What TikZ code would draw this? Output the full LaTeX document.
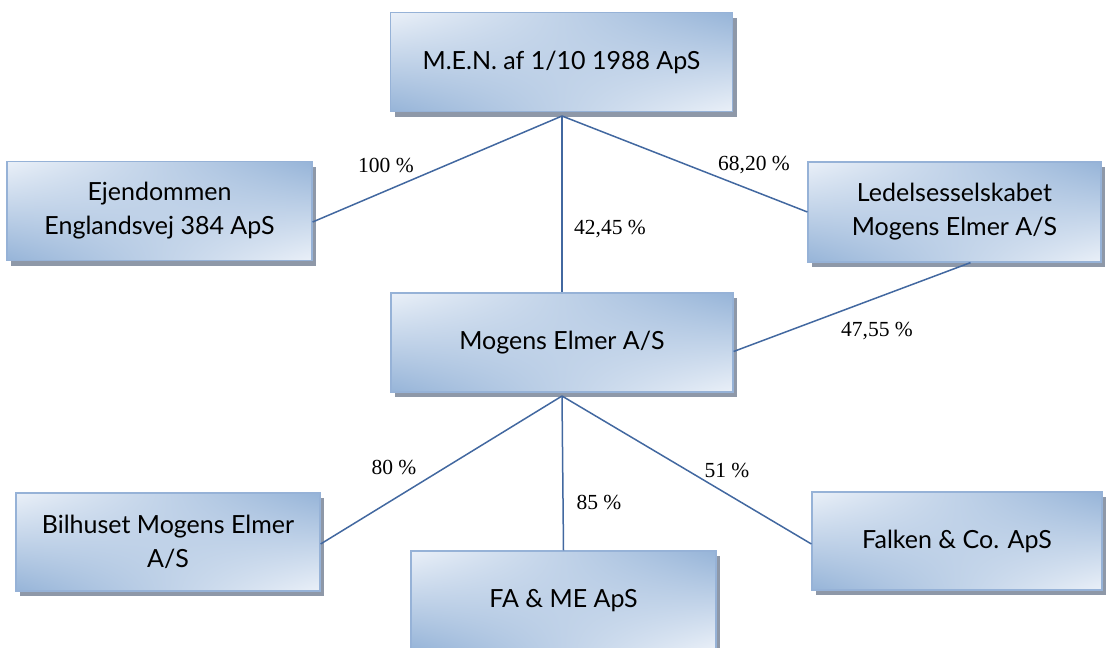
\documentclass[tikz,border=0pt]{standalone}
\usepackage{fontspec}
\setmainfont{Liberation Serif}
\newfontfamily\firmfont{Lato}
\usetikzlibrary{shadings,shadows}

\definecolor{boxlight}{RGB}{234,240,248}
\definecolor{boxdark}{RGB}{150,180,216}
\definecolor{boxedge}{RGB}{150,178,215}
\definecolor{boxshadow}{RGB}{142,152,168}
\definecolor{linkblue}{RGB}{66,104,160}

\tikzset{
  firm/.style={draw=boxedge, line width=1.2pt,
    upper left=boxlight, lower right=boxlight, upper right=boxdark, lower left=boxdark,
    drop shadow={shadow xshift=4pt, shadow yshift=-5pt, fill=boxshadow, opacity=1},
    align=center, font=\firmfont\fontsize{25}{34}\selectfont, inner sep=0pt},
  pct/.style={font=\fontsize{21.5}{25}\selectfont, inner sep=0pt},
  link/.style={draw=linkblue, line width=1.5pt}
}

\begin{document}
\begin{tikzpicture}[x=1pt, y=-1pt]

    \useasboundingbox (0, 0) rectangle (1109, 648);

    % 1. Selskaberne
    \node[firm, minimum width=342pt, minimum height=99pt] (men) at (561.5, 62) {M.E.N. af 1/10 1988 ApS};
    \node[firm, minimum width=305pt, minimum height=99pt] (ejen) at (159.5, 211) {Ejendommen\\Englandsvej 384 ApS};
    \node[firm, minimum width=293pt, minimum height=100pt] (led) at (954.5, 212) {Ledelsesselskabet\\Mogens Elmer A/S};
    \node[firm, minimum width=342pt, minimum height=99pt] (mog) at (562, 342.5) {Mogens Elmer A/S};
    \node[firm, minimum width=304pt, minimum height=98pt] (bil) at (168, 542) {Bilhuset Mogens Elmer\\A/S};
    \node[firm, minimum width=305pt, minimum height=99pt] (fame) at (563.5, 600.5) {FA \& ME ApS};
    \node[firm, minimum width=290pt, minimum height=98pt] (falk) at (957, 541) {Falken \& Co. ApS};

    % 2. Knudepunkter under boksene
    \coordinate (menfoot) at (562, 116);
    \coordinate (mogfoot) at (562, 396);

    % 3. Ejerforbindelser
    \draw[link] (menfoot) -- ([yshift=-11pt]ejen.east);
    \draw[link] (menfoot) -- (led.west);
    \draw[link] (menfoot) -- (mog.north);
    \draw[link] ([xshift=16pt]led.south) -- ([yshift=-9pt]mog.east);
    \draw[link] (mogfoot) -- ([yshift=-2pt]bil.east);
    \draw[link] (mogfoot) -- (fame.north);
    \draw[link] (mogfoot) -- ([yshift=-3pt]falk.west);

    % 4. Ejerandele
    \node[pct] (p1) at (386, 165) {100 \%};
    \node[pct] (p2) at (754, 165) {68,20 \%};
    \node[pct] (p3) at (610, 229) {42,45 \%};
    \node[pct] (p4) at (877, 331) {47,55 \%};
    \node[pct] (p5) at (394, 467) {80 \%};
    \node[pct] (p6) at (599, 502) {85 \%};
    \node[pct] (p7) at (727, 470) {51 \%};

\end{tikzpicture}
\end{document}
